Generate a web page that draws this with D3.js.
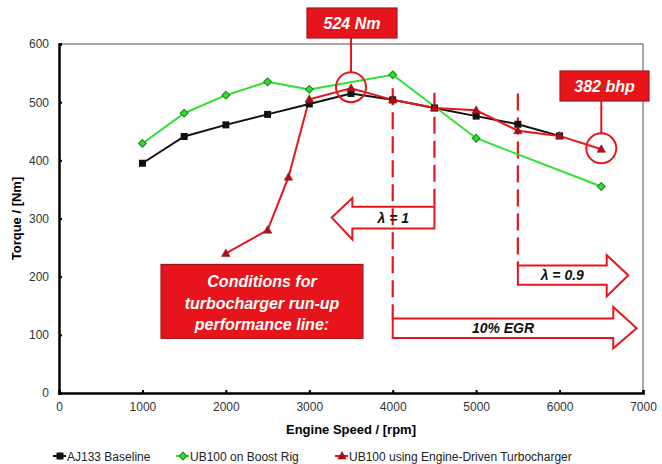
<!DOCTYPE html>
<html><head><meta charset="utf-8">
<script src="https://cdn.jsdelivr.net/npm/d3@7"></script>
<style>
html,body{margin:0;padding:0;background:#fff;}
svg{display:block;font-family:"Liberation Sans",Arial,sans-serif;}
</style></head>
<body><svg id="c" width="662" height="464"></svg>
<script>
// ---- data ----
const baselineRpm = [1000,1500,2000,2500,3000,3500,4000,4500,5000,5500,6000];
const baselineTq  = [395,441,461,479,497,515,504,490,476,462,442];
const boostRpm = [1000,1500,2000,2500,3000,4000,5000,6500];
const boostTq  = [429,481,512,535,522,547,438,355];
const turboRpm = [2000,2500,2750,3000,3500,4000,4500,5000,5500,6000,6500];
const turboTq  = [240,280,371,505,524,504,490,486,451,442,419];
const xTicks = [0,1000,2000,3000,4000,5000,6000,7000];
const yTicks = [0,100,200,300,400,500,600];
const seriesNames = ["AJ133 Baseline","UB100 on Boost Rig","UB100 using Engine-Driven Turbocharger"];

const svg = d3.select("#c");
const x = d3.scaleLinear().domain([0,7000]).range([59,643]);
const y = d3.scaleLinear().domain([0,600]).range([393,44]);

const RED = "#e8141b", DARKRED = "#a3141a", GREEN = "#2fe02f", DKGREEN = "#1f8f1f";

// frame (top & right gray)
svg.append("path").attr("d",`M${x(0)},${y(600)}H${x(7000)}V${y(0)}`)
  .attr("fill","none").attr("stroke","#8a8a8a").attr("stroke-width",1.5);

// axes
const xa = svg.append("g").attr("transform",`translate(0,${y(0)})`)
  .call(d3.axisBottom(x).tickValues(xTicks).tickSize(-3).tickPadding(9).tickFormat(d3.format("d")));
const ya = svg.append("g").attr("transform",`translate(${x(0)},0)`)
  .call(d3.axisLeft(y).tickValues(yTicks).tickSize(-3).tickPadding(9));
[xa,ya].forEach(a=>{
  a.select(".domain").attr("stroke","#000").attr("stroke-width",2.5);
  a.selectAll(".tick line").attr("stroke","#000").attr("stroke-width",2);
  a.selectAll(".tick text").attr("fill","#333").attr("font-size",12).attr("font-family","Liberation Sans, Arial, sans-serif");
});
ya.selectAll(".tick text").attr("dx",-1);

// axis titles
svg.append("text").attr("x",(x(0)+x(7000))/2).attr("y",434).attr("text-anchor","middle")
  .attr("font-size",13).attr("font-weight","bold").text("Engine Speed / [rpm]");
svg.append("text").attr("transform",`translate(21,${(y(0)+y(600))/2}) rotate(-90)`).attr("text-anchor","middle")
  .attr("font-size",13).attr("font-weight","bold").text("Torque / [Nm]");

// annotations geometry (data units)
const dashLines = [{rpm:4000,top:524,bot:128},{rpm:4500,top:516,bot:320},{rpm:5500,top:515,bot:219}];
dashLines.forEach(d=>{
  svg.append("line").attr("x1",x(d.rpm)).attr("x2",x(d.rpm)).attr("y1",y(d.top)).attr("y2",y(d.bot))
    .attr("stroke",RED).attr("stroke-width",2.2).attr("stroke-dasharray","17,7");
});

function arrow(base,headBase,tip,bTop,bBot,hTop,hBot){
  const p = d3.path();
  p.moveTo(x(base),y(bTop)); p.lineTo(x(headBase),y(bTop)); p.lineTo(x(headBase),y(hTop));
  p.lineTo(x(tip),(y(bTop)+y(bBot))/2); p.lineTo(x(headBase),y(hBot)); p.lineTo(x(headBase),y(bBot));
  p.lineTo(x(base),y(bBot)); p.closePath();
  return p.toString();
}
const arrows = [
  {base:4500,headBase:3516,tip:3269,bTop:320,bBot:283,hTop:335,hBot:264,label:"\u03bb = 1"},
  {base:5500,headBase:6565,tip:6824,bTop:219,bBot:186,hTop:237,hBot:166,label:"\u03bb = 0.9"},
  {base:4000,headBase:6644,tip:6924,bTop:128,bBot:94.5,hTop:148,hBot:77,label:"10% EGR"}
];
arrows.forEach(a=>{
  svg.append("path").attr("d",arrow(a.base,a.headBase,a.tip,a.bTop,a.bBot,a.hTop,a.hBot))
    .attr("fill","none").attr("stroke",RED).attr("stroke-width",2).attr("stroke-linejoin","miter");
  const cx = (x(a.base)+x(a.headBase))/2;
  svg.append("text").attr("x",cx).attr("y",(y(a.bTop)+y(a.bBot))/2+5).attr("text-anchor","middle")
    .attr("font-size",14).attr("font-weight","bold").attr("font-style","italic").attr("fill","#111").text(a.label);
});

// series
const series = [
  {rpm:baselineRpm,tq:baselineTq,color:"#111",mk:"square"},
  {rpm:boostRpm,tq:boostTq,color:GREEN,mk:"diamond"},
  {rpm:turboRpm,tq:turboTq,color:RED,mk:"triangle"}
];
const line = d3.line().x(d=>x(d[0])).y(d=>y(d[1]));
function marker(g,type,cx,cy){
  if(type==="square") g.append("rect").attr("x",cx-3.5).attr("y",cy-3.5).attr("width",7).attr("height",7).attr("fill","#111");
  else if(type==="diamond") g.append("path").attr("d",`M${cx},${cy-3.8}L${cx+3.8},${cy}L${cx},${cy+3.8}L${cx-3.8},${cy}Z`)
    .attr("fill",GREEN).attr("stroke",DKGREEN).attr("stroke-width",1.2);
  else g.append("path").attr("d",`M${cx},${cy-4.5}L${cx+4.2},${cy+3}L${cx-4.2},${cy+3}Z`).attr("fill",DARKRED).attr("stroke",DARKRED).attr("stroke-width",0.6);
}
series.forEach(s=>{
  const pts = s.rpm.map((r,i)=>[r,s.tq[i]]);
  svg.append("path").attr("d",line(pts)).attr("fill","none").attr("stroke",s.color).attr("stroke-width",2);
});
series.forEach(s=>{
  const g = svg.append("g");
  s.rpm.forEach((r,i)=>marker(g,s.mk,x(r),y(s.tq[i])));
});

// callouts
function callout(rpm,tq,boxX0,boxX1,boxY0,boxY1,label){
  const cx = x(rpm), cy = y(tq);
  svg.append("line").attr("x1",cx).attr("x2",cx).attr("y1",boxY1).attr("y2",cy-15).attr("stroke",RED).attr("stroke-width",2);
  svg.append("circle").attr("cx",cx).attr("cy",cy-1).attr("r",15).attr("fill","none").attr("stroke",RED).attr("stroke-width",2);
  svg.append("rect").attr("x",boxX0).attr("y",boxY0).attr("width",boxX1-boxX0).attr("height",boxY1-boxY0)
    .attr("fill",RED).attr("stroke",DARKRED).attr("stroke-width",1.2);
  svg.append("text").attr("x",(boxX0+boxX1)/2).attr("y",(boxY0+boxY1)/2+6).attr("text-anchor","middle")
    .attr("font-size",16).attr("font-weight","bold").attr("font-style","italic").attr("fill","#fff").text(label);
}
callout(3500,524,307,397,8,38,"524 Nm");
callout(6500,419,560,649,71,101,"382 bhp");

// conditions box
const cb = {r0:1223,r1:3643,t0:221,t1:94};
svg.append("rect").attr("x",x(cb.r0)).attr("y",y(cb.t0)).attr("width",x(cb.r1)-x(cb.r0)).attr("height",y(cb.t1)-y(cb.t0))
  .attr("fill",RED).attr("stroke",DARKRED).attr("stroke-width",1.2);
const condLines = ["Conditions for","turbocharger run-up","performance line:"];
condLines.forEach((t,i)=>{
  svg.append("text").attr("x",(x(cb.r0)+x(cb.r1))/2).attr("y",y(cb.t0)+23+i*21.5).attr("text-anchor","middle")
    .attr("font-size",16).attr("font-weight","bold").attr("font-style","italic").attr("fill","#fff").text(t);
});

// legend
const legX = [53,176,335], legY = 456;
series.forEach((s,i)=>{
  const g = svg.append("g");
  g.append("line").attr("x1",legX[i]).attr("x2",legX[i]+13).attr("y1",legY).attr("y2",legY).attr("stroke",s.color).attr("stroke-width",2);
  marker(g,s.mk,legX[i]+7,legY);
  g.append("text").attr("x",legX[i]+14).attr("y",legY+4.5).attr("font-size",12).attr("fill","#222").text(seriesNames[i]);
});
</script></body></html>
